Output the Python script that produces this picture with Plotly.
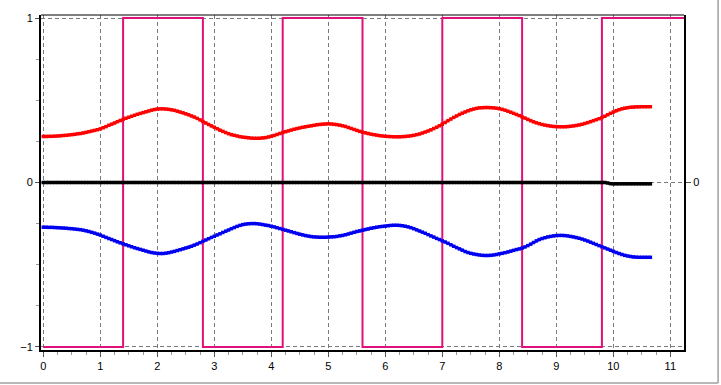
import numpy as np
import plotly.graph_objects as go

x_step = 0.05

red = [
    0.280, 0.280, 0.281, 0.281, 0.282, 0.283, 0.284, 0.286, 0.287, 0.289,
    0.291, 0.293, 0.296, 0.298, 0.301, 0.305, 0.309, 0.313, 0.317, 0.321,
    0.326, 0.333, 0.340, 0.348, 0.355, 0.362, 0.370, 0.377, 0.384, 0.391,
    0.397, 0.403, 0.409, 0.415, 0.420, 0.425, 0.430, 0.435, 0.440, 0.444,
    0.447, 0.448, 0.448, 0.447, 0.445, 0.442, 0.439, 0.434, 0.429, 0.424,
    0.418, 0.412, 0.405, 0.398, 0.390, 0.381, 0.371, 0.362, 0.353, 0.344,
    0.336, 0.327, 0.318, 0.311, 0.304, 0.297, 0.291, 0.287, 0.283, 0.279,
    0.276, 0.274, 0.272, 0.270, 0.269, 0.269, 0.269, 0.271, 0.273, 0.277,
    0.281, 0.286, 0.292, 0.298, 0.304, 0.309, 0.314, 0.319, 0.324, 0.328,
    0.332, 0.336, 0.339, 0.342, 0.345, 0.348, 0.351, 0.353, 0.355, 0.356,
    0.357, 0.356, 0.354, 0.352, 0.349, 0.345, 0.341, 0.335, 0.329, 0.323,
    0.317, 0.311, 0.306, 0.302, 0.298, 0.294, 0.291, 0.288, 0.285, 0.283,
    0.281, 0.280, 0.279, 0.278, 0.278, 0.278, 0.279, 0.280, 0.282, 0.284,
    0.287, 0.291, 0.295, 0.301, 0.307, 0.313, 0.320, 0.328, 0.336, 0.345,
    0.355, 0.365, 0.376, 0.386, 0.396, 0.405, 0.414, 0.422, 0.429, 0.436,
    0.442, 0.447, 0.451, 0.454, 0.455, 0.456, 0.456, 0.455, 0.454, 0.452,
    0.449, 0.445, 0.440, 0.434, 0.428, 0.421, 0.414, 0.407, 0.399, 0.392,
    0.384, 0.376, 0.369, 0.363, 0.358, 0.353, 0.349, 0.346, 0.343, 0.341,
    0.340, 0.339, 0.339, 0.339, 0.340, 0.342, 0.344, 0.347, 0.350, 0.354,
    0.359, 0.364, 0.370, 0.376, 0.382, 0.388, 0.395, 0.403, 0.412, 0.421,
    0.429, 0.437, 0.443, 0.448, 0.452, 0.455, 0.458, 0.459, 0.460, 0.460,
    0.461, 0.461, 0.461, 0.461,
]

blue = [
    -0.272, -0.272, -0.273, -0.273, -0.274, -0.275, -0.276, -0.277, -0.278, -0.280,
    -0.281, -0.283, -0.285, -0.287, -0.290, -0.294, -0.298, -0.303, -0.308, -0.314,
    -0.320, -0.327, -0.334, -0.341, -0.347, -0.354, -0.361, -0.367, -0.373, -0.379,
    -0.385, -0.391, -0.397, -0.402, -0.407, -0.412, -0.417, -0.422, -0.426, -0.429,
    -0.431, -0.432, -0.432, -0.430, -0.427, -0.423, -0.419, -0.414, -0.409, -0.404,
    -0.399, -0.394, -0.388, -0.381, -0.374, -0.366, -0.358, -0.350, -0.342, -0.334,
    -0.327, -0.319, -0.312, -0.304, -0.296, -0.289, -0.281, -0.274, -0.267, -0.261,
    -0.256, -0.253, -0.251, -0.250, -0.250, -0.251, -0.253, -0.256, -0.259, -0.262,
    -0.266, -0.270, -0.275, -0.280, -0.285, -0.290, -0.295, -0.300, -0.305, -0.310,
    -0.315, -0.319, -0.323, -0.326, -0.329, -0.331, -0.332, -0.333, -0.333, -0.333,
    -0.332, -0.331, -0.330, -0.328, -0.325, -0.322, -0.318, -0.313, -0.308, -0.303,
    -0.298, -0.294, -0.290, -0.286, -0.282, -0.278, -0.275, -0.272, -0.269, -0.267,
    -0.265, -0.263, -0.261, -0.260, -0.260, -0.261, -0.263, -0.266, -0.270, -0.275,
    -0.281, -0.288, -0.295, -0.302, -0.309, -0.317, -0.325, -0.332, -0.340, -0.347,
    -0.355, -0.362, -0.370, -0.379, -0.388, -0.396, -0.404, -0.412, -0.420, -0.426,
    -0.431, -0.435, -0.438, -0.441, -0.443, -0.444, -0.444, -0.443, -0.441, -0.438,
    -0.434, -0.431, -0.427, -0.423, -0.418, -0.413, -0.408, -0.404, -0.399, -0.392,
    -0.384, -0.375, -0.365, -0.355, -0.347, -0.341, -0.336, -0.331, -0.328, -0.325,
    -0.323, -0.322, -0.322, -0.323, -0.325, -0.328, -0.331, -0.335, -0.339, -0.344,
    -0.350, -0.356, -0.363, -0.370, -0.377, -0.384, -0.391, -0.398, -0.405, -0.412,
    -0.419, -0.426, -0.432, -0.438, -0.443, -0.447, -0.450, -0.453, -0.454, -0.455,
    -0.455, -0.455, -0.455, -0.455,
]

black = [
    0, 0, 0, 0, 0, 0, 0, 0, 0, 0,
    0, 0, 0, 0, 0, 0, 0, 0, 0, 0,
    0, 0, 0, 0, 0, 0, 0, 0, 0, 0,
    0, 0, 0, 0, 0, 0, 0, 0, 0, 0,
    0, 0, 0, 0, 0, 0, 0, 0, 0, 0,
    0, 0, 0, 0, 0, 0, 0, 0, 0, 0,
    0, 0, 0, 0, 0, 0, 0, 0, 0, 0,
    0, 0, 0, 0, 0, 0, 0, 0, 0, 0,
    0, 0, 0, 0, 0, 0, 0, 0, 0, 0,
    0, 0, 0, 0, 0, 0, 0, 0, 0, 0,
    0, 0, 0, 0, 0, 0, 0, 0, 0, 0,
    0, 0, 0, 0, 0, 0, 0, 0, 0, 0,
    0, 0, 0, 0, 0, 0, 0, 0, 0, 0,
    0, 0, 0, 0, 0, 0, 0, 0, 0, 0,
    0, 0, 0, 0, 0, 0, 0, 0, 0, 0,
    0, 0, 0, 0, 0, 0, 0, 0, 0, 0,
    0, 0, 0, 0, 0, 0, 0, 0, 0, 0,
    0, 0, 0, 0, 0, 0, 0, 0, 0, 0,
    0, 0, 0, 0, 0, 0, 0, 0, 0, 0,
    0, 0, 0, 0, 0, 0, 0, 0, -0.003, -0.007,
    -0.008, -0.008, -0.008, -0.008, -0.008, -0.008, -0.008, -0.008, -0.008, -0.008,
    -0.008, -0.008, -0.008, -0.008,
]

square_x = [0, 1.4, 2.8, 4.2, 5.6, 7.0, 8.4, 9.8, 11.4]
square_y = [-1, 1, -1, 1, -1, 1, -1, 1, 1]

x_ticks = list(range(0, 12))

xs = np.round(np.arange(len(red)) * x_step, 2)

fig = go.Figure()

fig.add_trace(go.Scatter(
    x=square_x, y=square_y, mode="lines", line=dict(color="rgb(226,16,122)", width=2, shape="hv"),
    hoverinfo="skip",
))

for vals, col in ((red, "rgb(255,0,0)"), (blue, "rgb(0,0,240)"), (black, "rgb(0,0,0)")):
    fig.add_trace(go.Scatter(
        x=xs, y=vals, mode="lines+markers",
        line=dict(color=col, width=2.2),
        marker=dict(color=col, size=3.5, symbol="square"),
        hoverinfo="skip",
    ))

# carrier trace for the right axis
fig.add_trace(go.Scatter(x=[0], y=[0], yaxis="y2", mode="markers",
                         marker=dict(opacity=0), hoverinfo="skip"))

grid = dict(showgrid=True, gridcolor="#7a7a7a", gridwidth=1, griddash="4px,3px", zeroline=False)

fig.update_layout(
    width=721, height=385,
    margin=dict(l=41, r=37, t=15, b=35),
    plot_bgcolor="white", paper_bgcolor="white",
    showlegend=False,
    font=dict(family="Liberation Sans, Arial, sans-serif", size=11, color="black"),
    xaxis=dict(
        range=[-0.04, 11.24], tickmode="linear", tick0=0, dtick=1,
        showline=True, linecolor="black", linewidth=2,
        ticks="outside", ticklen=5, tickcolor="#555555",
        minor=dict(dtick=0.25, tick0=0, ticks="outside", ticklen=3, tickcolor="#999999", showgrid=False),
        **grid,
    ),
    yaxis=dict(
        range=[-1.019, 1.019], tickmode="linear", tick0=0, dtick=1,
        showline=True, linecolor="black", linewidth=2,
        ticks="outside", ticklen=4, tickcolor="#555555",
        minor=dict(dtick=0.25, tick0=0, ticks="outside", ticklen=3, tickcolor="#999999", showgrid=False),
        **grid,
    ),
    yaxis2=dict(
        range=[-1.019, 1.019], overlaying="y", side="right",
        tickmode="array", tickvals=[0], ticktext=["0"],
        showline=True, linecolor="black", linewidth=2,
        ticks="outside", ticklen=5, tickcolor="#555555",
        showgrid=False, zeroline=False,
    ),
    shapes=[
        dict(type="line", xref="paper", yref="paper", x0=0, x1=1, y0=1, y1=1,
             line=dict(color="black", width=1)),
        dict(type="line", xref="paper", yref="paper", x0=-0.07, x1=1.053, y0=-0.0985, y1=-0.0985,
             line=dict(color="#a0a0a0", width=1.5)),
        dict(type="line", xref="paper", yref="paper", x0=1.053, x1=1.053, y0=-0.0985, y1=1.05,
             line=dict(color="#a0a0a0", width=1.5)),
    ],
)

fig.write_html("out.html")
